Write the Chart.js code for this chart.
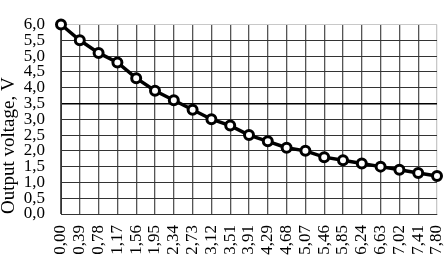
<!DOCTYPE html>
<html>
<head>
<meta charset="utf-8">
<script src="https://cdn.jsdelivr.net/npm/chart.js@4/dist/chart.umd.min.js"></script>
<style>
  html, body { margin: 0; padding: 0; background: #fff; }
  #wrap { width: 446px; height: 258px; }
</style>
</head>
<body>
<div id="wrap"><canvas id="voltChart" width="446" height="258"></canvas></div>
<script>
// x categories, as printed under the axis
let xLabels = ["0,00", "0,39", "0,78", "1,17", "1,56", "1,95", "2,34", "2,73", "3,12", "3,51", "3,91",
               "4,29", "4,68", "5,07", "5,46", "5,85", "6,24", "6,63", "7,02", "7,41", "7,80"];

// output voltage, V
let voltValues = [6.0, 5.5, 5.1, 4.8, 4.3, 3.9, 3.6, 3.3, 3.0, 2.8, 2.5,
                  2.3, 2.1, 2.0, 1.8, 1.7, 1.6, 1.5, 1.4, 1.3, 1.2];

let yTitle = "Output voltage, V";

let serif = "'Liberation Serif', 'DejaVu Serif', serif";

// comma as decimal separator on the y axis
let fmtComma = (v) => v.toFixed(1).replace('.', ',');

const ctx = document.getElementById('voltChart').getContext('2d');

let myChart = new Chart(ctx, {
  type: 'line',
  data: {
    labels: xLabels,
    datasets: [{
      data: voltValues,
      borderColor: '#000',
      borderWidth: 3.5,
      backgroundColor: '#fff',
      pointBackgroundColor: '#fff',
      pointBorderColor: '#000',
      pointBorderWidth: 3,
      pointRadius: 4.5,
      tension: 0,
      clip: false
    }]
  },
  options: {
    responsive: false,
    animation: false,
    layout: { padding: { top: 7, right: 9, left: 0, bottom: 0 } },
    plugins: {
      legend: { display: false },
      tooltip: { enabled: false }
    },
    scales: {
      x: {
        offset: false,
        grid: {
          drawTicks: false,
          color: (c) => c.index === xLabels.length - 1 ? '#c8c8c8' : '#555',
          lineWidth: 1.3
        },
        border: { color: '#333' },
        ticks: {
          autoSkip: false,
          minRotation: 90,
          maxRotation: 90,
          padding: 11,
          color: '#000',
          font: { family: serif, size: 17 }
        },
        afterFit: (scale) => {
          scale.height = 44;
          // rotated labels would otherwise push the plot in from the right
          scale.paddingLeft = 0;
          scale.paddingRight = 0;
        }
      },
      y: {
        min: 0,
        max: 6,
        grid: {
          drawTicks: false,
          color: (c) => {
            if (c.tick.value === 3.5) return '#000';
            if (c.tick.value === 6) return '#c8c8c8';
            return '#333';
          },
          lineWidth: (c) => c.tick.value === 3.5 ? 1.6 : 1
        },
        border: { color: '#333' },
        ticks: {
          stepSize: 0.5,
          autoSkip: false,
          padding: 16,
          color: '#000',
          font: { family: serif, size: 17, lineHeight: 1 },
          callback: (v) => fmtComma(v)
        },
        title: {
          display: true,
          text: yTitle,
          align: 'start',
          color: '#000',
          padding: { top: 0, bottom: 0 },
          font: { family: serif, size: 19, lineHeight: 1 }
        },
        afterFit: (scale) => { scale.width = 61; }
      }
    }
  }
});
</script>
</body>
</html>
